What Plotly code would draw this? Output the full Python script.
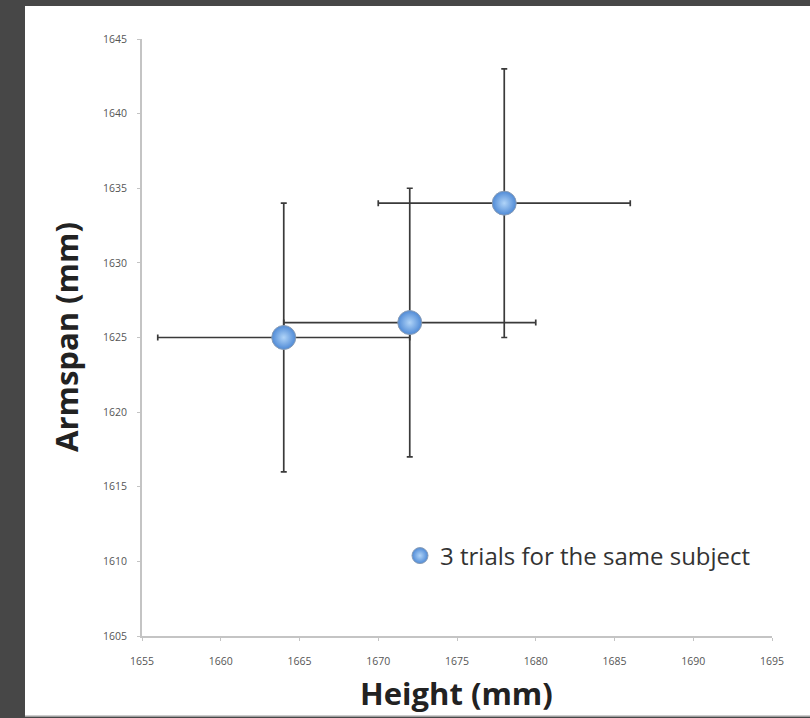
import plotly.graph_objects as go

# Three trials for one subject: height vs armspan (mm) with measurement uncertainty
height_mm = [1664, 1672, 1678]
armspan_mm = [1625, 1626, 1634]
height_err = [8, 8, 8]
armspan_err = [9, 9, 9]

x_ticks = [1655, 1660, 1665, 1670, 1675, 1680, 1685, 1690, 1695]
y_ticks = [1605, 1610, 1615, 1620, 1625, 1630, 1635, 1640, 1645]

W, H = 810, 718
L, R, T, B = 142, 38, 39, 82
pw, ph = W - L - R, H - T - B
FONT = "Open Sans, Lato, sans-serif"


def px_x(p):
    return (p - L) / pw


def px_y(p):
    return (H - B - p) / ph


fig = go.Figure()
fig.add_trace(go.Scatter(
    x=height_mm,
    y=armspan_mm,
    mode="markers",
    name="3 trials for the same subject",
    marker=dict(
        size=24,
        color="#4f8ad6",
        gradient=dict(type="radial", color="#b0d4f8"),
        line=dict(color="#8a9db5", width=1),
    ),
    error_x=dict(type="data", array=height_err, color="#3a3a3a", thickness=1.7, width=3),
    error_y=dict(type="data", array=armspan_err, color="#3a3a3a", thickness=1.7, width=3),
))

axis_common = dict(
    showgrid=False,
    zeroline=False,
    showline=True,
    linecolor="#c4c4c4",
    linewidth=1.8,
    ticks="outside",
    ticklen=3,
    tickcolor="#c4c4c4",
    tickfont=dict(family=FONT, size=10.5, color="#555555"),
    fixedrange=True,
)

fig.update_xaxes(range=[1655, 1695], tickvals=x_ticks, ticktext=[str(v) for v in x_ticks],
                 ticklabelstandoff=11, **axis_common)
fig.update_yaxes(range=[1605, 1645], tickvals=y_ticks, ticktext=[str(v) for v in y_ticks],
                 ticklabelstandoff=8, **axis_common)

fig.update_layout(
    width=W,
    height=H,
    margin=dict(l=L, r=R, t=T, b=B, pad=0),
    paper_bgcolor="#474747",
    plot_bgcolor="white",
    showlegend=True,
    legend=dict(
        x=px_x(400), y=px_y(556), xanchor="left", yanchor="middle",
        bgcolor="rgba(0,0,0,0)",
        font=dict(family=FONT, size=24, color="#333333"),
        itemwidth=30,
    ),
    shapes=[
        # white slide panel behind the chart
        dict(type="rect", xref="paper", yref="paper", layer="below",
             x0=px_x(25), x1=px_x(812), y0=px_y(716), y1=px_y(6),
             fillcolor="white", line=dict(width=0)),
        dict(type="line", xref="paper", yref="paper", layer="below",
             x0=px_x(25), x1=px_x(812), y0=px_y(716), y1=px_y(716),
             line=dict(color="#bdbdbd", width=1.5)),
    ],
    annotations=[
        dict(text="<b>Armspan (mm)</b>", xref="paper", yref="paper",
             x=px_x(66), y=px_y(337), xanchor="center", yanchor="middle",
             textangle=-90, showarrow=False,
             font=dict(family=FONT, size=31, color="#222222")),
        dict(text="<b>Height (mm)</b>", xref="paper", yref="paper",
             x=px_x(456), y=px_y(693), xanchor="center", yanchor="middle",
             showarrow=False,
             font=dict(family=FONT, size=31, color="#222222")),
    ],
)

fig.write_html("out.html")
